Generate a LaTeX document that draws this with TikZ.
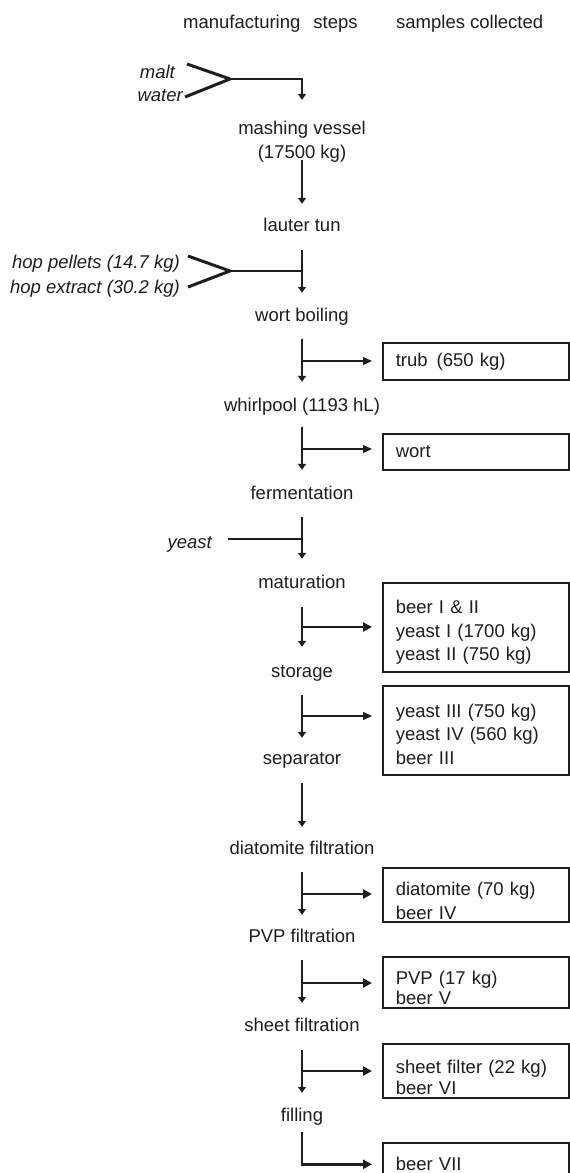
\documentclass[tikz,border=0pt]{standalone}
\usepackage{fontspec}
\setmainfont{Liberation Sans}
\usetikzlibrary{arrows.meta}
\definecolor{ink}{HTML}{1E1E1E}
\newcommand\myfs{\fontsize{18.5}{23.5}\selectfont}
\newcommand\myfsb{\fontsize{18.5}{20.5}\selectfont}
\newcommand\topgap[1]{\rule{0pt}{#1}}
\begin{document}
\begin{tikzpicture}[x=1pt,y=1pt,
  lab/.style={inner sep=0pt, text height=13.5pt, text depth=4pt, font=\myfs, text=ink},
  inlab/.style={lab, font=\myfs\itshape, anchor=east},
  sbox/.style={draw=ink, line width=1.6pt, minimum width=186pt, inner xsep=13pt, inner ysep=0pt,
               text width=160pt, align=left, anchor=north west, font=\myfs, text=ink},
  flow/.style={draw=ink, line width=2pt, -{Triangle[length=6pt,width=8pt]}},
  feed/.style={draw=ink, line width=3pt},
  joinline/.style={draw=ink, line width=2.2pt},
  thinbr/.style={draw=ink, line width=1.3pt, -{Triangle[length=9pt,width=8pt]}, shorten >=10pt},
  thickbr/.style={draw=ink, line width=2.6pt, -{Triangle[length=9pt,width=9pt]}, shorten >=10pt}
]
\clip (0,0) rectangle (570,-1173);
\fill[white] (0,0) rectangle (570,-1173);

% headers
\node[lab, anchor=west] (hdr1) at (183,-24) {manufacturing\hspace{13pt}steps};
\node[lab, anchor=west] (hdr2) at (396,-24) {samples collected};

% inputs
\node[inlab] (malt) at (175,-74) {malt};
\node[inlab] (water) at (183,-97) {water};
\node[inlab] (hopp) at (180,-264) {hop pellets (14.7 kg)};
\node[inlab] (hope) at (180,-289) {hop extract (30.2 kg)};
\node[inlab] (yeast) at (212,-544) {yeast};

% manufacturing steps
\node[inner sep=0pt, align=center, font=\fontsize{18.5}{24}\selectfont, text=ink] (mash) at (302,-142) {mashing vessel\\(17500 kg)};
\node[lab] (lauter) at (302,-227) {lauter tun};
\node[lab] (wortb) at (302,-317) {wort boiling};
\node[lab] (whirl) at (302,-407) {whirlpool (1193 hL)};
\node[lab] (ferm) at (302,-495) {fermentation};
\node[lab] (matur) at (302,-584) {maturation};
\node[lab] (stor) at (302,-673) {storage};
\node[lab] (sepa) at (302,-760) {separator};
\node[lab] (diat) at (302,-850) {diatomite filtration};
\node[lab] (pvpf) at (302,-938) {PVP filtration};
\node[lab] (sheetf) at (302,-1027) {sheet filtration};
\node[lab] (fill) at (302,-1117) {filling};

% samples collected
\node[sbox, minimum height=37pt] (trub) at (382,-342) {trub\hspace{9pt}(650 kg)};
\node[sbox, minimum height=36pt] (wortbx) at (382,-433) {wort};
\node[sbox, minimum height=89pt] (bx1) at (382,-582) {\topgap{23.5pt}beer I \& II\\yeast I (1700 kg)\\yeast II (750 kg)};
\node[sbox, minimum height=89pt] (bx2) at (382,-685) {\topgap{21.5pt}yeast III (750 kg)\\yeast IV (560 kg)\\beer III};
\node[sbox, minimum height=54pt] (bx3) at (382,-867) {\topgap{25.5pt}diatomite (70 kg)\\beer IV};
\node[sbox, minimum height=51pt, font=\myfsb] (bx4) at (382,-956) {\topgap{24.3pt}PVP (17 kg)\\beer V};
\node[sbox, minimum height=54pt, font=\myfsb] (bx5) at (382,-1043) {\topgap{27pt}sheet filter (22 kg)\\beer VI};
\node[sbox, minimum height=43pt] (bx6) at (382,-1142) {beer VII};

% malt + water
\coordinate (maltS) at (187,-64);
\coordinate (waterS) at (185,-97);
\coordinate (tj) at (230,-79);
\draw[feed] (maltS) -- (tj);
\draw[feed] (waterS) -- (tj);
\draw[flow, line width=2.2pt, shorten >=21.35pt] (tj) -| (mash.north);

% main column
\draw[flow, shorten <=-2.5pt, shorten >=14.25pt] (mash.south) -- (lauter.north);
\draw[flow, shorten <=14.25pt, shorten >=15.25pt] (lauter.south) -- (wortb.north);
\coordinate (hpS) at (188,-256);
\coordinate (heS) at (188,-287);
\coordinate (hj) at (230,-271);
\draw[feed] (hpS) -- (hj);
\draw[feed] (heS) -- (hj);
\draw[joinline] (hj) -- (hj -| lauter.south);

\draw[flow, shorten <=13.25pt, shorten >=16.25pt] (wortb.south) -- (whirl.north);
\coordinate (br1) at (302,-361);
\draw[thinbr] (br1) -- (br1 -| trub.west);

\draw[flow, shorten <=11.25pt, shorten >=16.25pt] (whirl.south) -- (ferm.north);
\coordinate (br2) at (302,-449);
\draw[thinbr] (br2) -- (br2 -| wortbx.west);

\draw[flow, shorten <=13.25pt, shorten >=16.25pt] (ferm.south) -- (matur.north);
\coordinate (ysS) at (228,-539);
\draw[joinline] (ysS) -- (ysS -| ferm.south);

\draw[flow, shorten <=14.25pt, shorten >=17.25pt] (matur.south) -- (stor.north);
\coordinate (br3) at (302,-627);
\draw[thickbr] (br3) -- (br3 -| bx1.west);

\draw[flow, shorten <=13.25pt, shorten >=13.25pt] (stor.south) -- (sepa.north);
\coordinate (br4) at (302,-716);
\draw[thinbr] (br4) -- (br4 -| bx2.west);

\draw[flow, shorten <=14.25pt, shorten >=14.25pt] (sepa.south) -- (diat.north);

\draw[flow, shorten <=13.25pt, shorten >=14.25pt] (diat.south) -- (pvpf.north);
\coordinate (br5) at (302,-894);
\draw[thickbr] (br5) -- (br5 -| bx3.west);

\draw[flow, shorten <=13.25pt, shorten >=15.25pt] (pvpf.south) -- (sheetf.north);
\coordinate (br6) at (302,-983);
\draw[thickbr] (br6) -- (br6 -| bx4.west);

\draw[flow, shorten <=14.25pt, shorten >=15.25pt] (sheetf.south) -- (fill.north);
\coordinate (br7) at (302,-1071);
\draw[thickbr] (br7) -- (br7 -| bx5.west);

\draw[thickbr, shorten <=6.25pt] (fill.south) |- (bx6.west);
\end{tikzpicture}
\end{document}
